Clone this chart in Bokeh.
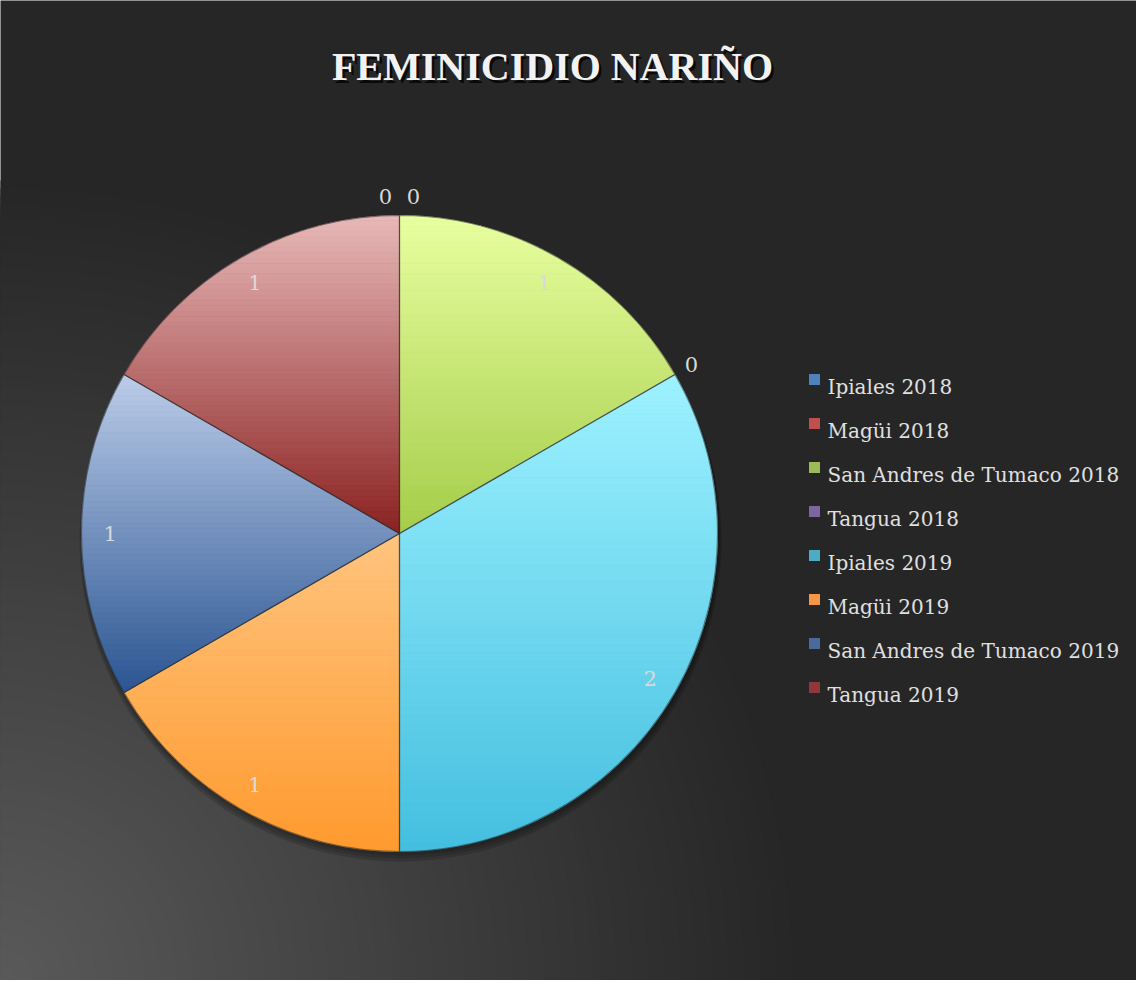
import math
from bokeh.plotting import figure
from bokeh.models import Range1d, ColumnDataSource
from bokeh.core.properties import value
from bokeh.embed import file_html
from bokeh.resources import INLINE

# ---------------- data ----------------
title_text = "FEMINICIDIO NARIÑO"
categories = ["Ipiales 2018", "Magüi 2018", "San Andres de Tumaco 2018", "Tangua 2018",
              "Ipiales 2019", "Magüi 2019", "San Andres de Tumaco 2019", "Tangua 2019"]
counts = [0, 0, 1, 0, 2, 1, 1, 1]

# ---------------- styles ----------------
base_colors = ["#4F81BD", "#C0504D", "#9BBB59", "#8064A2", "#4BACC6", "#F79646", "#4A6A9C", "#8E3A38"]
top_colors = ["#a8c2e6", "#e6a3a1", "#e8ffa0", "#c3b0dd", "#9ef2ff", "#ffc47f", "#bccde9", "#e8b9b9"]
bottom_colors = ["#2c5590", "#8b2222", "#a5cd4a", "#5b3f80", "#44bfe0", "#ff9a2e", "#2b5592", "#8b2222"]

W, H = 1136, 980


def fx(x_img):
    return x_img - 8


def fy(y_img):
    return 988 - y_img


def hex2rgb(h):
    h = h.lstrip("#")
    return tuple(int(h[i:i + 2], 16) for i in (0, 2, 4))


def mix(c1, c2, t):
    a, b = hex2rgb(c1), hex2rgb(c2)
    return "#%02x%02x%02x" % tuple(int(round(a[i] + (b[i] - a[i]) * t)) for i in range(3))


p = figure(width=W, height=H, x_range=Range1d(0, W), y_range=Range1d(0, H),
           output_backend="svg", toolbar_location=None, min_border=0,
           x_axis_location=None, y_axis_location=None)
p.grid.visible = False
p.outline_line_color = None
p.background_fill_color = "#262626"
p.border_fill_color = "#262626"

# ---------------- background radial gradient (bottom-left light) ----------------
bg_r, bg_c = [], []
r = 800
while r > 0:
    L = int(round(max(38, 90 - 0.065 * r)))
    bg_r.append(r)
    bg_c.append("#%02x%02x%02x" % (L, L, L))
    r -= 8
p.circle(x=[0] * len(bg_r), y=[0] * len(bg_r), radius=bg_r, fill_color=bg_c, line_color=None)

# ---------------- pie geometry ----------------
cx, cy, R = fx(407), fy(541), 318
total = float(sum(counts))
starts, ends = [], []
acc = 0.0
for v in counts:
    starts.append(math.pi / 2 - 2 * math.pi * acc / total)
    acc += v
    ends.append(math.pi / 2 - 2 * math.pi * acc / total)

# shadow
for k, a in enumerate([0.12, 0.12, 0.15]):
    p.circle(x=[cx + 1], y=[cy - 3 - k * 2], radius=R + 1 + k, fill_color="black",
             fill_alpha=a, line_color=None)

pos = [i for i, v in enumerate(counts) if v > 0]
src = ColumnDataSource(dict(
    start=[starts[i] for i in pos], end=[ends[i] for i in pos],
    color=[base_colors[i] for i in pos]))
p.wedge(x=cx, y=cy, radius=R, start_angle="start", end_angle="end", direction="clock",
        fill_color="color", line_color=None, source=src)


def clip(poly, ylo, yhi):
    def clip_half(pts, keep, inter):
        out = []
        n = len(pts)
        for k in range(n):
            cur, prv = pts[k], pts[k - 1]
            if keep(cur):
                if not keep(prv):
                    out.append(inter(prv, cur))
                out.append(cur)
            elif keep(prv):
                out.append(inter(prv, cur))
        return out

    def interp(yv):
        def f(a, b):
            t = (yv - a[1]) / (b[1] - a[1])
            return (a[0] + t * (b[0] - a[0]), yv)
        return f

    pts = clip_half(poly, lambda q: q[1] >= ylo, interp(ylo))
    if not pts:
        return []
    return clip_half(pts, lambda q: q[1] <= yhi, interp(yhi))


band_xs, band_ys, band_col = [], [], []
for i in pos:
    a0, a1 = starts[i], ends[i]
    n = 90
    poly = [(cx, cy)] + [(cx + R * math.cos(a0 + (a1 - a0) * k / n),
                          cy + R * math.sin(a0 + (a1 - a0) * k / n)) for k in range(n + 1)]
    ytop = max(q[1] for q in poly)
    ybot = min(q[1] for q in poly)
    nb = 60
    for b in range(nb):
        yhi = ytop - (ytop - ybot) * b / nb
        ylo = ytop - (ytop - ybot) * (b + 1) / nb
        cp = clip(poly, ylo, yhi)
        if len(cp) < 3:
            continue
        band_xs.append([q[0] for q in cp])
        band_ys.append([q[1] for q in cp])
        band_col.append(mix(top_colors[i], bottom_colors[i], (b + 0.5) / nb))
p.patches(xs=band_xs, ys=band_ys, fill_color=band_col, line_color=band_col, line_width=0.8)

# slice edges
p.wedge(x=cx, y=cy, radius=R, start_angle="start", end_angle="end", direction="clock",
        fill_alpha=0, line_color="#2e2e2e", line_alpha=0.55, line_width=1.2, source=src)

# ---------------- data labels ----------------
lx, ly, ltxt, lxo = [], [], [], []
zero_groups = {}
for i, v in enumerate(counts):
    mid = (starts[i] + ends[i]) / 2
    if v > 0:
        rr = 0.91 * R
    else:
        rr = 1.06 * R
        zero_groups.setdefault(round(mid, 4), []).append(len(lx))
    lx.append(cx + rr * math.cos(mid))
    ly.append(cy + rr * math.sin(mid))
    ltxt.append(str(v))
    lxo.append(0)
for key, idxs in zero_groups.items():
    if len(idxs) > 1:
        for k, j in enumerate(idxs):
            lxo[j] = (k - (len(idxs) - 1) / 2) * 28
p.text(x=lx, y=ly, text=ltxt, x_offset=lxo, text_align="center", text_baseline="middle",
       text_font=value("DejaVu Serif"), text_font_size="21px", text_color="#d9d9d9")

# ---------------- legend ----------------
leg_y = [fy(387 + 44 * k) for k in range(len(categories))]
p.scatter(x=[fx(822)] * len(categories), y=leg_y, marker="square", size=11,
          fill_color=base_colors, line_color=None)
p.text(x=[fx(835)] * len(categories), y=[y - 7.5 for y in leg_y], text=categories,
       text_align="left", text_baseline="alphabetic",
       text_font=value("DejaVu Serif"), text_font_size="20px", text_color="#e0e0e0")

# ---------------- title ----------------
p.text(x=[fx(560) + 2.5], y=[fy(74) - 2.5], text=[title_text], text_align="center",
       text_baseline="alphabetic", text_font=value("Liberation Serif"), text_font_size="40px",
       text_font_style="bold", text_color="black", text_alpha=0.75)
p.text(x=[fx(560)], y=[fy(74)], text=[title_text], text_align="center",
       text_baseline="alphabetic", text_font=value("Liberation Serif"), text_font_size="40px",
       text_font_style="bold", text_color="#f2f2f2")

open("out.html", "w").write(file_html(p, INLINE))
